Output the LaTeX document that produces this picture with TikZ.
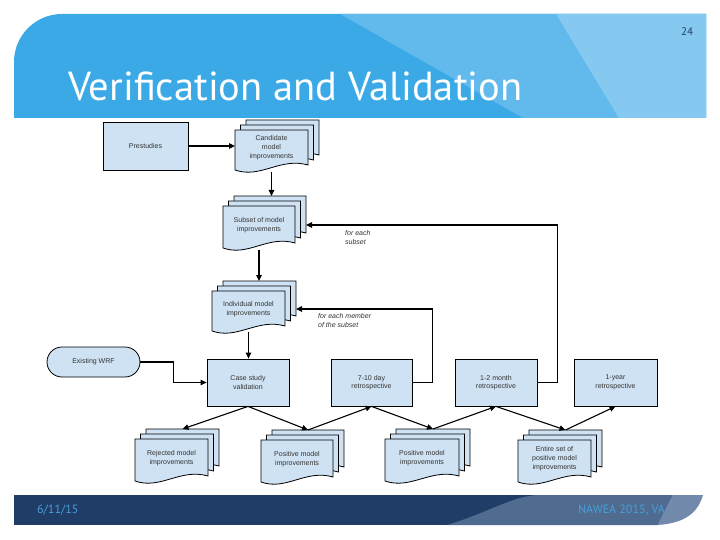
\documentclass[tikz,border=0pt]{standalone}
\usepackage{fontspec}
\setmainfont{Liberation Sans}
\newfontfamily\titlefont{PT Sans}
\usetikzlibrary{arrows.meta}
\definecolor{hdrA}{HTML}{3AA9E6}
\definecolor{hdrB}{HTML}{62BAEC}
\definecolor{hdrC}{HTML}{86C9F0}
\definecolor{navy}{HTML}{1F3D66}
\definecolor{slate}{HTML}{4F6B90}
\definecolor{slatelt}{HTML}{7189AA}
\definecolor{foottxt}{HTML}{4A9FD8}
\definecolor{pagenum}{HTML}{1F3F6A}
\definecolor{boxfill}{HTML}{CFE2F3}
\definecolor{txtgray}{HTML}{333333}
\tikzset{
  boxsty/.style={draw=black, fill=boxfill, line width=0.8pt, inner sep=0pt,
    font=\fontsize{7}{8.5}\selectfont, text=txtgray, align=center},
  docsty/.style={draw=black, fill=boxfill, line width=0.8pt},
  docframe/.style={inner sep=0pt, outer sep=0pt},
  doctext/.style={inner sep=0pt, font=\fontsize{7}{9}\selectfont, text=txtgray, align=center},
  conn/.style={draw=black, line width=1.1pt},
  arr/.style={conn, -{Triangle[length=6pt,width=5.5pt]}},
  looplbl/.style={inner sep=0pt, font=\fontsize{7}{9}\selectfont\itshape, text=txtgray, align=left, anchor=north west}
}
\newcommand\docshape[4]{%
  \draw[docsty] ({#1},{#2}) -- ({#1+#3},{#2}) -- ({#1+#3},{#2+#4-5})
    .. controls ({#1+0.62*#3},{#2+#4-13}) and ({#1+0.35*#3},{#2+#4+9}) .. ({#1},{#2+#4}) -- cycle;}
\newcommand\docstack[6]{%
  \docshape{#2+11}{#3-10}{#4}{#5}%
  \docshape{#2+5.5}{#3-5}{#4}{#5}%
  \docshape{#2}{#3}{#4}{#5}%
  \node[docframe, minimum width=#4, minimum height=#5] (#1) at ({#2+#4/2},{#3+#5/2}) {};
  \node[doctext] (#1-t) at ([yshift=2pt]#1.center) {#6};
  \coordinate (#1-bt) at ({#2+#4/2+11},{#3-10});
  \coordinate (#1-e) at ({#2+#4+11},{#3+#5/2-2});
}
\begin{document}
\begin{tikzpicture}[x=1pt,y=-1pt]
\useasboundingbox (0,0) rectangle (720,540);
\fill[white] (0,0) rectangle (720,540);
% header
\fill[hdrA] (14,118) -- (14,62) arc[start angle=180, end angle=270, radius=48] -- (706,14) -- (706,118) -- cycle;
\fill[hdrB] (340,14) -- (706,14) -- (706,118) -- (523,118) -- cycle;
\fill[hdrC] (556,14) -- (706,14) -- (706,118) -- (619,118) -- cycle;
\node[anchor=base west, inner sep=0pt, text=white, font=\titlefont\fontsize{40.5}{42}\selectfont] (title) at (68,101) {Verification and Validation};
\node[inner sep=0pt, text=pagenum, font=\titlefont\fontsize{11}{12}\selectfont] (pnum) at (687,32) {24};
% footer
\fill[navy] (14,495) rectangle (600,525);
\fill[slate] (447,525) .. controls (490,512) and (510,497) .. (537,495) -- (673,495) -- (658,525) -- cycle;
\fill[slatelt] (673,495) -- (703,495) .. controls (698,512) and (686,523) .. (658,525) -- cycle;
\node[anchor=west, inner sep=0pt, text=foottxt, font=\titlefont\fontsize{12}{13}\selectfont] (date) at (37,510) {6/11/15};
\node[anchor=east, inner sep=0pt, text=foottxt, font=\titlefont\fontsize{12}{13}\selectfont] (conf) at (665,510) {NAWEA 2015, VA};
% boxes
\node[boxsty, minimum width=85, minimum height=48] (pre) at (145.5,146) {Prestudies};
\node[boxsty, minimum width=82, minimum height=47] (case) at (248,382.5) {Case study\\validation};
\node[boxsty, minimum width=81, minimum height=47] (r710) at (371.5,382.5) {7-10 day\\retrospective};
\node[boxsty, minimum width=82, minimum height=47] (r12) at (496,382.5) {1-2 month\\retrospective};
\node[boxsty, minimum width=83, minimum height=47] (r1y) at (615.5,382.5) {1-year\\retrospective};
\node[boxsty, minimum width=93, minimum height=30, rounded corners=15pt] (wrf) at (93.5,362) {Existing WRF};
% document stacks
\docstack{cand}{235}{130}{73}{40}{Candidate\\model\\improvements}
\docstack{sub}{223}{206}{72}{42}{Subset of model\\improvements}
\docstack{ind}{212}{291}{73}{40}{Individual model\\improvements}
\docstack{rej}{135}{439}{73}{42}{Rejected model\\improvements}
\docstack{pos1}{261}{440}{72}{42}{Positive model\\improvements}
\docstack{pos2}{385}{439}{74}{42}{Positive model\\improvements}
\docstack{ent}{518}{440}{73}{42}{Entire set of\\positive model\\improvements}
% connectors
\draw[arr] (pre.east) -- (pre.east -| cand.west);
\draw[arr] ([yshift=-2pt]cand.south) -- (cand.south |- sub-bt);
\draw[arr] ([yshift=-2pt]sub.south) -- (sub.south |- ind-bt);
\draw[arr] ([yshift=-1pt]ind.south) -- (ind.south |- case.north);
\draw[arr] (r12.east) -- ++(20,0) |- (sub-e);
\draw[arr] (r710.east) -- ++(20,0) |- (ind-e);
\draw[arr] (wrf.east) -- ++(33,0) |- (case.west);
\draw[arr] (case.south) -- (rej-bt);
\draw[arr] (case.south) -- (pos1-bt);
\draw[arr] (pos1-bt) -- (r710.south);
\draw[arr] (r710.south) -- (pos2-bt);
\draw[arr] (pos2-bt) -- (r12.south);
\draw[arr] (r12.south) -- (ent-bt);
\draw[arr] (ent-bt) -- (r1y.south);
% loop labels
\node[looplbl] (lbl1) at (345,230) {for each\\subset};
\node[looplbl] (lbl2) at (318,313) {for each member\\of the subset};
\end{tikzpicture}
\end{document}
